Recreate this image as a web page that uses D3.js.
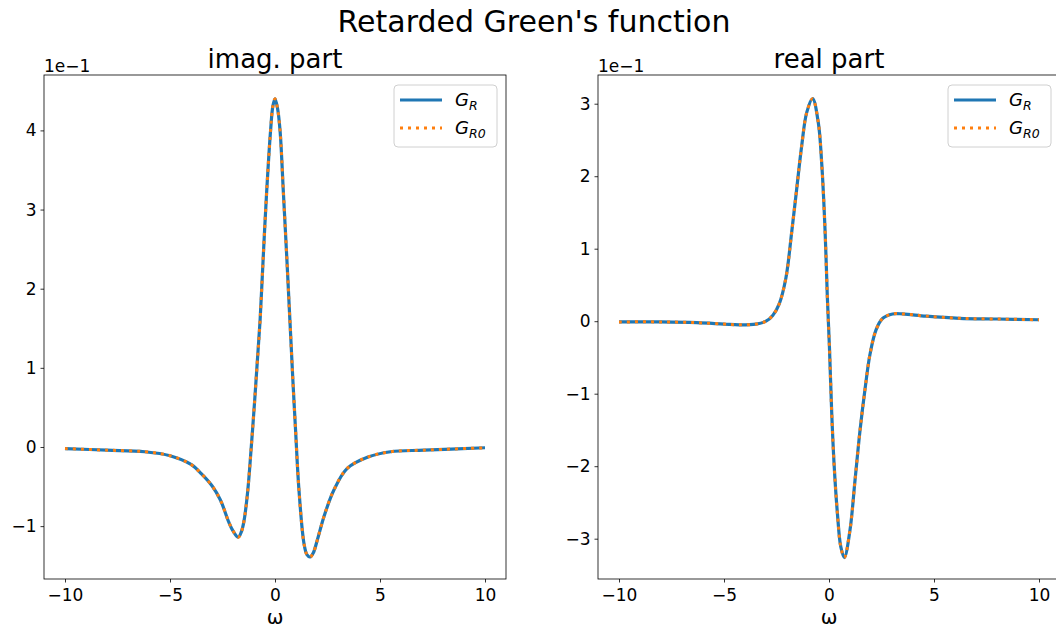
<!DOCTYPE html>
<html>
<head>
<meta charset="utf-8">
<script src="https://cdn.jsdelivr.net/npm/d3@7"></script>
<style>
  body { margin: 0; background: #fff; overflow: hidden; }
  svg { display: block; font-family: "DejaVu Sans", sans-serif; }
</style>
</head>
<body>
<script>
// omega grid
var omegaImag = [-10, -8, -6.2, -5, -4, -3.5, -3, -2.6, -2.2, -2, -1.75, -1.6, -1.48, -1.3, -1.13,
    -0.97, -0.87, -0.71, -0.56, -0.4, -0.21, -0.1, 0, 0.12, 0.24, 0.4, 0.56, 0.71, 0.85, 0.98,
    1.14, 1.38, 1.52, 1.67, 1.82, 2.02, 2.33, 2.81, 3.44, 4.4, 5.5, 7.1, 10];
// imag part values (actual values, axis shows them in units of 1e-1)
var imagGR = [-0.002, -0.004, -0.006, -0.011, -0.022, -0.034, -0.049, -0.067, -0.095, -0.106, -0.114, -0.107, -0.094, -0.056, 0.0,
    0.058, 0.097, 0.160, 0.240, 0.321, 0.400, 0.431, 0.440, 0.428, 0.400, 0.321, 0.240, 0.160, 0.085, 0.021,
    -0.054, -0.122, -0.136, -0.139, -0.134, -0.117, -0.088, -0.054, -0.027, -0.013, -0.006, -0.004, -0.001];
var imagGR0 = [-0.002, -0.004, -0.006, -0.011, -0.022, -0.034, -0.049, -0.067, -0.095, -0.106, -0.114, -0.107, -0.094, -0.056, 0.0,
    0.058, 0.097, 0.160, 0.240, 0.321, 0.400, 0.431, 0.440, 0.428, 0.400, 0.321, 0.240, 0.160, 0.085, 0.021,
    -0.054, -0.122, -0.136, -0.139, -0.134, -0.117, -0.088, -0.054, -0.027, -0.013, -0.006, -0.004, -0.001];

// omega grid
var omegaReal = [-10, -8, -6.3, -5, -4.27, -3.48, -3.0, -2.68, -2.37, -2.05, -1.78, -1.54, -1.3, -1.06, -0.78,
    -0.51, -0.35, -0.19, -0.08, 0.02, 0.13, 0.24, 0.4, 0.56, 0.73, 1.0, 1.24, 1.48, 1.71, 1.95,
    2.24, 2.56, 3.03, 3.51, 4.62, 6.21, 8, 10];
var realGR = [-0.001, -0.001, -0.002, -0.004, -0.005, -0.004, 0.0, 0.008, 0.024, 0.060, 0.122, 0.182, 0.242, 0.288, 0.307,
    0.274, 0.219, 0.127, 0.034, -0.035, -0.127, -0.196, -0.265, -0.311, -0.326, -0.288, -0.219, -0.150, -0.095, -0.046,
    -0.012, 0.004, 0.010, 0.010, 0.007, 0.004, 0.003, 0.002];
var realGR0 = [-0.001, -0.001, -0.002, -0.004, -0.005, -0.004, 0.0, 0.008, 0.024, 0.060, 0.122, 0.182, 0.242, 0.288, 0.307,
    0.274, 0.219, 0.127, 0.034, -0.035, -0.127, -0.196, -0.265, -0.311, -0.326, -0.288, -0.219, -0.150, -0.095, -0.046,
    -0.012, 0.004, 0.010, 0.010, 0.007, 0.004, 0.003, 0.002];

var xTicks = [-10, -5, 0, 5, 10];
var imagTicks = [-0.1, 0, 0.1, 0.2, 0.3, 0.4];
var realTicks = [-0.3, -0.2, -0.1, 0, 0.1, 0.2, 0.3];
var seriesNames = ["G_R", "G_R0"];

var W = 1056, H = 630;
var blue = "#1f77b4", orange = "#ff7f0e";

var svg = d3.select("body").append("svg")
    .attr("width", W)
    .attr("height", H);

// figure title
svg.append("text")
    .attr("x", 534)
    .attr("y", 32)
    .attr("text-anchor", "middle")
    .style("font-size", "30px")
    .text("Retarded Green's function");

function minusFmt(v) {
    var s = d3.format("d")(Math.round(v * 10));
    return s.replace("-", "\u2212");
}

function panel(opts) {
    var left = opts.left, top = 75, w = 462, h = 504;
    var g = svg.append("g").attr("transform", "translate(" + left + "," + top + ")");

    var x = d3.scaleLinear().domain([-11, 11]).range([0, w]);
    var y = d3.scaleLinear().domain(opts.yDomain).range([h, 0]);

    // curves: solid blue under dotted orange
    var line = d3.line()
        .x(function(d) { return x(d[0]); })
        .y(function(d) { return y(d[1]); })
        .curve(d3.curveCatmullRom.alpha(0.5));

    g.append("path")
        .datum(d3.zip(opts.omega, opts.gr))
        .attr("d", line)
        .attr("fill", "none")
        .attr("stroke", blue)
        .attr("stroke-width", 3.2)
        .attr("stroke-linejoin", "round");

    g.append("path")
        .datum(d3.zip(opts.omega, opts.gr0))
        .attr("d", line)
        .attr("fill", "none")
        .attr("stroke", orange)
        .attr("stroke-width", 3)
        .attr("stroke-dasharray", "3,5");

    // axes
    var xAxis = g.append("g")
        .attr("transform", "translate(0," + h + ")")
        .call(d3.axisBottom(x).tickValues(xTicks).tickSizeInner(3.5).tickSizeOuter(0).tickPadding(4)
            .tickFormat(function(d) { return String(d).replace("-", "\u2212"); }));
    var yAxis = g.append("g")
        .call(d3.axisLeft(y).tickValues(opts.yTicks).tickSizeInner(3.5).tickSizeOuter(0).tickPadding(4)
            .tickFormat(minusFmt));
    [xAxis, yAxis].forEach(function(a) {
        a.select(".domain").remove();
        a.selectAll("line").attr("stroke", "#000").attr("stroke-width", 0.8);
        a.selectAll("text")
            .attr("fill", "#000")
            .style("font-family", "DejaVu Sans")
            .style("font-size", "17px");
    });
    xAxis.selectAll("text").attr("dy", "0.88em");

    // frame
    g.append("rect")
        .attr("x", 0).attr("y", 0)
        .attr("width", w).attr("height", h)
        .attr("fill", "none")
        .attr("stroke", "#000")
        .attr("stroke-width", 0.8);

    // offset text
    g.append("text")
        .attr("x", 0)
        .attr("y", -3)
        .style("font-size", "17px")
        .text("1e\u22121");

    // subplot title
    g.append("text")
        .attr("x", w / 2)
        .attr("y", -7)
        .attr("text-anchor", "middle")
        .style("font-size", "26px")
        .text(opts.title);

    // x label
    g.append("text")
        .attr("x", w / 2)
        .attr("y", h + 45)
        .attr("text-anchor", "middle")
        .style("font-size", "20px")
        .text("\u03c9");

    // legend
    var lg = g.append("g").attr("transform", "translate(" + (w - 112) + ",10)");
    lg.append("rect")
        .attr("width", 103)
        .attr("height", 62)
        .attr("rx", 4)
        .attr("fill", "#fff")
        .attr("fill-opacity", 0.8)
        .attr("stroke", "#d0d0d0");
    seriesNames.forEach(function(name, i) {
        var yy = 15 + i * 28;
        lg.append("line")
            .attr("x1", 6).attr("x2", 48)
            .attr("y1", yy).attr("y2", yy)
            .attr("stroke", i === 0 ? blue : orange)
            .attr("stroke-width", 3)
            .attr("stroke-dasharray", i === 0 ? null : "3,5");
        var t = lg.append("text")
            .attr("x", 61)
            .attr("y", yy + 6)
            .style("font-size", "18px")
            .style("font-style", "italic");
        t.append("tspan").text("G");
        t.append("tspan")
            .attr("dy", 4)
            .style("font-size", "12.5px")
            .text(i === 0 ? "R" : "R0");
    });
}

panel({
    left: 44,
    yDomain: [-0.1668, 0.4700],
    yTicks: imagTicks,
    omega: omegaImag, gr: imagGR, gr0: imagGR0,
    title: "imag. part"
});

panel({
    left: 598,
    yDomain: [-0.3556, 0.3396],
    yTicks: realTicks,
    omega: omegaReal, gr: realGR, gr0: realGR0,
    title: "real part"
});
</script>
</body>
</html>
